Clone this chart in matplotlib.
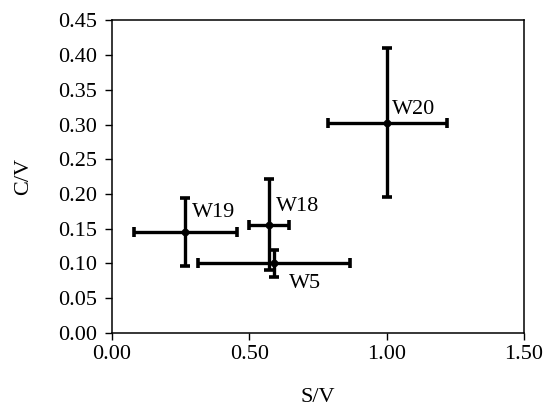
import matplotlib
matplotlib.use("Agg")
import matplotlib.pyplot as plt

names = ["W20", "W19", "W18", "W5"]
sv = [1.00, 0.266, 0.573, 0.589]
cv = [0.302, 0.146, 0.156, 0.100]
sv_err_lo = [0.212, 0.186, 0.073, 0.275]
sv_err_hi = [0.221, 0.190, 0.073, 0.276]
cv_err_lo = [0.107, 0.049, 0.065, 0.019]
cv_err_hi = [0.108, 0.048, 0.065, 0.020]
label_offsets = [(5, 14), (7, 19), (7, 18), (15, -20)]  # pixels

xticks = [0.00, 0.50, 1.00, 1.50]
yticks = [0.00, 0.05, 0.10, 0.15, 0.20, 0.25, 0.30, 0.35, 0.40, 0.45]

plt.rcParams['font.family'] = ['Liberation Serif', 'DejaVu Serif']

fig = plt.figure(figsize=(5.44, 4.07), dpi=100)
ax = fig.add_axes([0.206, 0.182, 0.757, 0.768])

ax.errorbar(sv, cv, xerr=[sv_err_lo, sv_err_hi], yerr=[cv_err_lo, cv_err_hi],
            fmt='o', color='black', ms=4.5, elinewidth=2.4, capsize=3.5,
            capthick=2.6, ecolor='black')

for n, x, y, (dx, dy) in zip(names, sv, cv, label_offsets):
    ax.annotate(n, (x, y), xytext=(dx, dy), textcoords='offset pixels',
                ha='left', va='center', fontsize=16)

ax.set_xlim(0, 1.5)
ax.set_ylim(0, 0.45)
ax.set_xticks(xticks)
ax.set_xticklabels([f"{v:.2f}" for v in xticks])
ax.set_yticks(yticks)
ax.set_yticklabels([f"{v:.2f}" for v in yticks])
ax.tick_params(direction='out', length=5, width=1, labelsize=16, pad=4)
ax.tick_params(axis='y', pad=6)
for s in ax.spines.values():
    s.set_linewidth(1.1)

ax.set_xlabel("S/V", fontsize=16, labelpad=17)
ax.set_ylabel("C/V", fontsize=16, labelpad=18)

fig.savefig("out.png", dpi=100)
